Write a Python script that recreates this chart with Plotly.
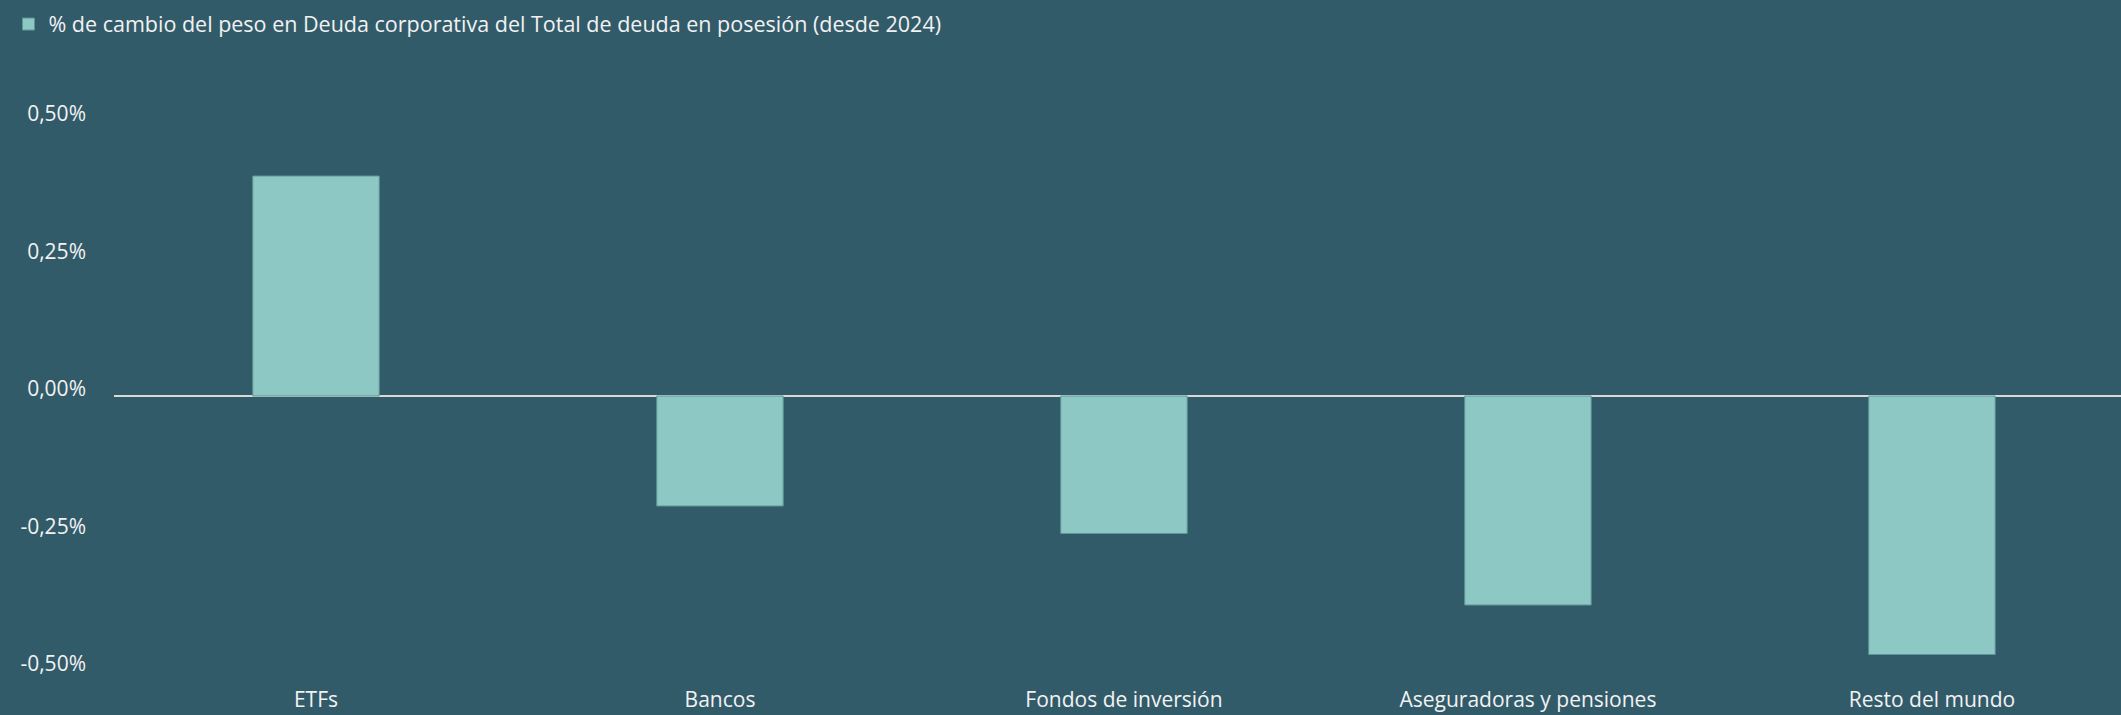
import plotly.graph_objects as go

categories = ["ETFs", "Bancos", "Fondos de inversión", "Aseguradoras y pensiones", "Resto del mundo"]
values = [0.0040, -0.0020, -0.0025, -0.0038, -0.0047]
series_name = "% de cambio del peso en Deuda corporativa del Total de deuda en posesión (desde 2024)"
tick_vals = [-0.005, -0.0025, 0.0, 0.0025, 0.005]
tick_text = [f"{v * 100:.2f}".replace(".", ",") + "%" for v in tick_vals]

BG = "#325B6A"
BAR = "#8DC8C4"
TXT = "#F2F2F2"
FONT = "Open Sans"

fig = go.Figure()
fig.add_trace(go.Bar(
    x=categories, y=values, name=series_name,
    marker=dict(color=BAR, line=dict(color="#5E9597", width=1)),
    showlegend=True,
))

fig.update_layout(
    width=2121, height=715,
    paper_bgcolor=BG, plot_bgcolor=BG,
    margin=dict(l=114, r=0, t=88, b=33, autoexpand=False),
    font=dict(family=FONT, size=22, color=TXT),
    separators=",.",
    bargap=0.687,
    showlegend=True,
    legend=dict(
        xref="container", yref="container",
        x=0.004, y=0.995, xanchor="left", yanchor="top",
        bgcolor="rgba(0,0,0,0)", font=dict(family=FONT, size=21.5, color=TXT),
        itemclick=False, itemdoubleclick=False,
    ),
    xaxis=dict(
        range=[-0.5, 4.468],
        showgrid=False, showline=False, ticks="",
        tickfont=dict(family=FONT, size=21, color=TXT),
        automargin=False, ticklabelstandoff=3,
    ),
    yaxis=dict(
        range=[-0.0052, 0.0056],
        tickvals=tick_vals, ticktext=tick_text,
        showgrid=False, showline=False, ticks="",
        zeroline=True, zerolinecolor="#D9D9D9", zerolinewidth=2,
        tickfont=dict(family=FONT, size=21, color=TXT),
        automargin=False, ticklabelstandoff=27, ticklabelshift=-7,
    ),
)

fig.write_html(
    "out.html",
    config={"displayModeBar": False},
    post_script="document.body.style.margin='0';document.body.style.overflow='hidden';",
)
